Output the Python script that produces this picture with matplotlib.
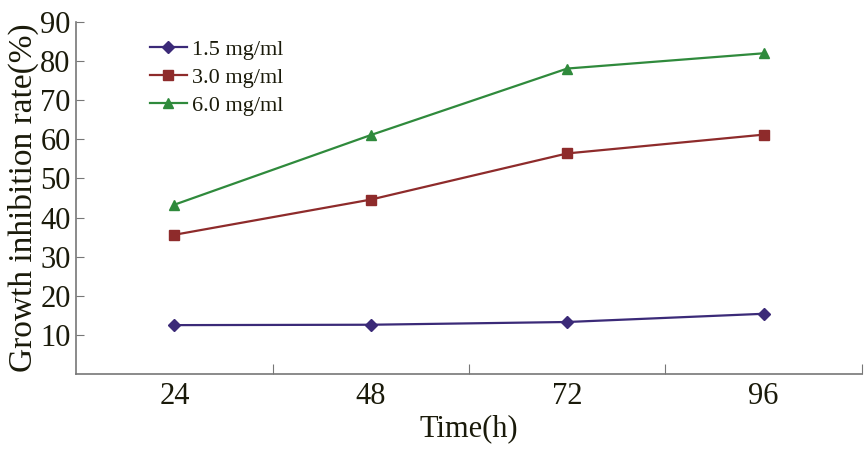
import matplotlib
matplotlib.use("Agg")
import matplotlib.pyplot as plt

times = ["24", "48", "72", "96"]
labels = ["1.5 mg/ml", "3.0 mg/ml", "6.0 mg/ml"]
dose_15 = [12.5, 12.6, 13.3, 15.4]
dose_30 = [35.6, 44.6, 56.4, 61.2]
dose_60 = [43.3, 61.1, 78.1, 82.0]
yticks = [10, 20, 30, 40, 50, 60, 70, 80, 90]

colors = ["#3b2a78", "#8e2b2b", "#2f8a3c"]
markers = ["D", "s", "^"]
txt = "#1a1a0a"

plt.rcParams['font.family'] = ['Liberation Serif', 'DejaVu Serif']

fig = plt.figure(figsize=(8.67, 4.49), dpi=100)
ax = fig.add_axes([0.088, 0.167, 0.906, 0.784])

x = list(range(len(times)))
for ys, c, m, lab in zip([dose_15, dose_30, dose_60], colors, markers, labels):
  ms = 6.5 if m == "D" else 7.5
  ax.plot(x, ys, color=c, lw=1.6, marker=m, ms=ms, label=lab)

ax.set_xlim(-0.5, 3.5)
ax.set_ylim(0, 90)
ax.set_yticks(yticks)
ax.set_yticklabels([str(v) for v in yticks], fontsize=22, color=txt)
ax.set_xticks([0.5, 1.5, 2.5, 3.5])
ax.set_xticklabels([])
ax.set_xticks(x, minor=True)
ax.set_xticklabels(times, minor=True, fontsize=22, color=txt)
ax.tick_params(axis='x', which='major', direction='in', length=7, color='#777777')
ax.tick_params(axis='x', which='minor', length=0, pad=6)
ax.tick_params(axis='y', direction='in', length=6, color='#777777', pad=4)

for s in ['top', 'right']:
  ax.spines[s].set_visible(False)
for s in ['left', 'bottom']:
  ax.spines[s].set_color('#777777')
  ax.spines[s].set_linewidth(1.2)

ax.set_xlabel("Time(h)", fontsize=22, color=txt, labelpad=2)
ax.set_ylabel("Growth inhibition rate(%)", fontsize=24, color=txt, labelpad=1)

ax.legend(loc='upper left', bbox_to_anchor=(0.082, 0.975), frameon=False,
          fontsize=16, handlelength=1.7, handletextpad=0.2, labelspacing=0.32,
          borderaxespad=0, labelcolor=txt)

fig.savefig("out.png", dpi=100)
